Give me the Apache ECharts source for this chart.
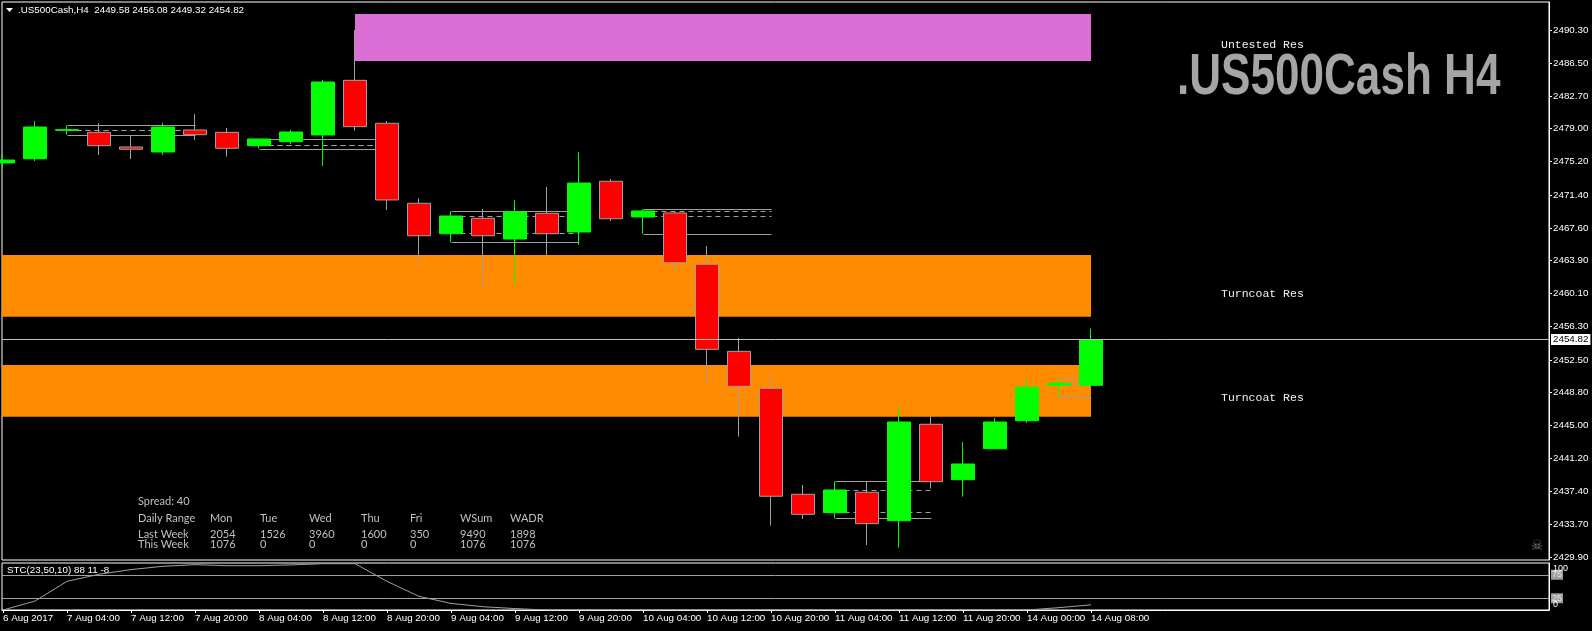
<!DOCTYPE html>
<html><head><meta charset="utf-8">
<script src="https://cdn.jsdelivr.net/npm/echarts@6/dist/echarts.min.js"></script>
<style>html,body{margin:0;padding:0;background:#000;}#c{width:1592px;height:631px;}</style>
</head><body><div id="c"></div>
<script>
// ---------- data ----------
const barTimes = ['6 Aug 2017','7 Aug 00:00','7 Aug 04:00','7 Aug 08:00','7 Aug 12:00','7 Aug 16:00','7 Aug 20:00',
  '8 Aug 00:00','8 Aug 04:00','8 Aug 08:00','8 Aug 12:00','8 Aug 16:00','8 Aug 20:00',
  '9 Aug 00:00','9 Aug 04:00','9 Aug 08:00','9 Aug 12:00','9 Aug 16:00','9 Aug 20:00',
  '10 Aug 00:00','10 Aug 04:00','10 Aug 08:00','10 Aug 12:00','10 Aug 16:00','10 Aug 20:00',
  '11 Aug 00:00','11 Aug 04:00','11 Aug 08:00','11 Aug 12:00','11 Aug 16:00','11 Aug 20:00',
  '13 Aug 20:00','14 Aug 00:00','14 Aug 04:00','14 Aug 08:00'];
const opens  = [2475.06,2475.55,2478.80,2478.57,2476.89,2476.32,2478.84,2478.57,2477.04,2477.50,2478.27,2484.53,2479.61,2470.44,2466.95,2468.72,2466.35,2469.29,2467.15,2472.96,2468.87,2469.33,2463.45,2453.47,2449.23,2437.09,2434.98,2437.32,2434.06,2445.11,2438.76,2442.31,2445.52,2449.58,2449.58];
const highs  = [2476.09,2479.87,2479.38,2479.64,2478.15,2479.68,2480.67,2479.07,2477.81,2478.84,2484.57,2490.30,2479.87,2471.01,2469.52,2469.78,2470.82,2472.31,2476.32,2473.22,2469.75,2469.56,2465.54,2455.00,2450.56,2438.15,2438.57,2438.61,2447.06,2446.17,2443.08,2445.83,2450.41,2450.38,2456.08];
const lows   = [2474.48,2475.29,2478.30,2475.97,2475.51,2475.97,2477.69,2475.78,2476.70,2477.23,2474.71,2478.76,2469.67,2463.45,2465.97,2460.88,2461.19,2464.48,2465.66,2468.41,2466.95,2462.68,2449.88,2443.69,2433.49,2434.26,2434.33,2431.27,2430.97,2437.73,2436.81,2442.31,2445.29,2448.27,2449.32];
const closes = [2475.40,2479.18,2478.88,2477.04,2476.63,2479.18,2478.30,2476.74,2477.81,2478.61,2484.34,2479.22,2470.82,2466.72,2468.98,2466.72,2469.48,2466.95,2472.76,2468.67,2469.56,2463.63,2453.70,2449.46,2436.86,2434.79,2437.58,2433.72,2445.37,2438.53,2440.56,2445.37,2449.35,2449.81,2454.82];
const stcValues = [0,19,61,76,86,93,96.5,94.3,94.3,96,98.5,98.5,61,29,14,7,3,0,0,0,0,0,0,0,0,0,0,0,0,0,0,0,0,5,11];
const priceTicks = [2490.30,2486.50,2482.70,2479.00,2475.20,2471.40,2467.60,2463.90,2460.10,2456.30,2452.50,2448.80,2445.00,2441.20,2437.40,2433.70,2429.90];
const timeTickBars = [0,2,4,6,8,10,12,14,16,18,20,22,24,26,28,30,32,34];
const lastPrice = 2454.82;
const stcLevels = [75,25];
const stcBounds = [0,100];
// supply / resistance zones
const zoneNames  = ['Untested Res','Turncoat Res','Turncoat Res'];
const zoneFrom   = [11,-1,-1];
const zoneTo     = [34,34,34];
const zoneTop    = [2492.13,2464.51,2451.90];
const zoneBottom = [2486.75,2457.44,2445.98];
// inside-bar boxes
const boxFrom  = [2,8,14,20,26,33];
const boxTo    = [6,12,18,24,29,34];
const boxHigh  = [2479.38,2477.81,2469.52,2469.75,2438.57,2450.38];
const boxLow   = [2478.30,2476.70,2465.97,2466.95,2434.33,2448.27];
const boxMidA  = [2478.84,2477.09,2468.95,2469.52,2437.54,2449.81];
const boxMidB  = [2478.84,2477.09,2466.99,2468.95,2435.01,2449.58];
// daily range table
const spreadValue = 40;
const tableHeader = ['Daily Range','Mon','Tue','Wed','Thu','Fri','WSum','WADR'];
const lastWeek = ['Last Week','2054','1526','3960','1600','350','9490','1898'];
const thisWeek = ['This Week','1076','0','0','0','0','1076','1076'];
const titleText = '.US500Cash,H4  2449.58 2456.08 2449.32 2454.82';
const stcTitle = 'STC(23,50,10) 88 11 -8';
const bigTitle = '.US500Cash H4';

// ---------- chart ----------
const XMIN = -1/32, XMAX = XMIN + 1547/32;
const zoneColors = ['#DA70D6','#FF8C00','#FF8C00'];
const AXF = '"Liberation Sans", Arial, sans-serif';
const chart = echarts.init(document.getElementById('c'), null, {renderer:'canvas'});

const tableCols = [138,210,260,309,361,410,460,510];
const tableGraphics = [];
tableGraphics.push({type:'text', x:138, y:501, style:{text:'Spread: ' + spreadValue, fill:'#C0C0C0', font:'11px Lato', textVerticalAlign:'middle'}});
[[tableHeader,518],[lastWeek,534],[thisWeek,544.5]].forEach(([row,y])=>{
  row.forEach((t,k)=>tableGraphics.push({type:'text', x:tableCols[k], y:y, style:{text:String(t), fill:'#C0C0C0', font:'11px Lato', textVerticalAlign:'middle'}}));
});

const zoneLabelY = [44.7, 293.5, 398];

const option = {
  backgroundColor:'#000',
  animation:false,
  grid:[
    {left:2, top:2, width:1547, height:558, show:true, borderColor:'#fff', borderWidth:1, backgroundColor:'transparent'},
    {left:2, top:563, width:1547, height:47, show:true, borderColor:'#fff', borderWidth:1, backgroundColor:'transparent'}
  ],
  xAxis:[
    {type:'value', gridIndex:0, min:XMIN, max:XMAX, show:false, axisLine:{onZero:false}},
    {type:'value', gridIndex:1, min:XMIN, max:XMAX, position:'bottom',
      axisLine:{show:true, onZero:false, lineStyle:{color:'#fff'}},
      axisTick:{show:true, length:3, lineStyle:{color:'#fff'}, customValues:timeTickBars},
      axisLabel:{show:true, customValues:timeTickBars, formatter:(v)=>barTimes[Math.round(v)]||'', color:'#fff',
        fontSize:9.8, fontFamily:AXF, align:'left', margin:3, hideOverlap:false},
      splitLine:{show:false}}
  ],
  yAxis:[
    {type:'value', gridIndex:0, position:'right', min:2429.555, max:2493.509,
      axisLine:{show:true, onZero:false, lineStyle:{color:'#fff'}},
      axisTick:{show:true, length:3, lineStyle:{color:'#fff'}, customValues:priceTicks},
      axisLabel:{show:true, customValues:priceTicks, formatter:(v)=>v.toFixed(2), color:'#fff', fontSize:9.8, fontFamily:AXF, margin:4},
      splitLine:{show:false}},
    {type:'value', gridIndex:1, position:'right', min:0, max:100,
      axisLine:{show:true, onZero:false, lineStyle:{color:'#fff'}},
      axisTick:{show:false},
      axisLabel:{show:true, customValues:stcLevels, margin:2, fontSize:9, fontFamily:AXF,
        color:'#E8E8E8', backgroundColor:'#9E9E9E', padding:[1,1,0,1], hideOverlap:false},
      splitLine:{show:false}},
    {type:'value', gridIndex:1, position:'right', min:0, max:100,
      axisLine:{show:false, onZero:false},
      axisTick:{show:false},
      axisLabel:{show:true, customValues:stcBounds, margin:4, fontSize:9, fontFamily:AXF, color:'#fff',
        showMinLabel:true, showMaxLabel:true, hideOverlap:false,
        formatter:(v)=> (v>50 ? '{top|'+v+'}' : '{bot|'+v+'}'),
        rich:{top:{color:'#fff', fontSize:9, fontFamily:AXF, padding:[12,0,0,0]},
              bot:{color:'#fff', fontSize:9, fontFamily:AXF, padding:[0,0,10,0]}}},
      splitLine:{show:false}}
  ],
  series:[
    {type:'custom', name:'zones', xAxisIndex:0, yAxisIndex:0, z:1, silent:true,
      data: zoneFrom.map((f,i)=>[Math.max(f, XMIN), zoneTo[i], zoneTop[i], zoneBottom[i]]),
      encode:{x:[0,1], y:[2,3]},
      renderItem:(params, api)=>{
        const i = params.dataIndex;
        const p0 = api.coord([api.value(0), api.value(2)]);
        const p1 = api.coord([api.value(1), api.value(3)]);
        const cs = params.coordSys;
        const r = echarts.graphic.clipRectByRect(
          {x:p0[0], y:p0[1], width:p1[0]-p0[0], height:p1[1]-p0[1]},
          {x:cs.x, y:cs.y, width:cs.width, height:cs.height});
        return r && {type:'rect', shape:r, style:{fill:zoneColors[i]}};
      },
      markLine:{silent:true, symbol:['none','none'], animation:false,
        lineStyle:{color:'#C0C0C0', width:1, type:'solid'},
        label:{show:true, position:'end', distance:2, formatter:()=>lastPrice.toFixed(2), backgroundColor:'#fff', color:'#000',
          padding:[1,2,0,2], fontSize:9.8, fontFamily:AXF},
        data:[{yAxis:lastPrice}]}
    },
    {type:'custom', name:'boxes', xAxisIndex:0, yAxisIndex:0, z:2, silent:true,
      data: boxFrom.map((f,i)=>[f, boxTo[i], boxHigh[i], boxLow[i], boxMidA[i], boxMidB[i]]),
      encode:{x:[0,1], y:[2,3]},
      renderItem:(params, api)=>{
        const x0 = api.value(0), x1 = api.value(1);
        const crisp = (y)=>Math.round(y)+0.5;
        const mk = (price, dashed)=>{
          const a = api.coord([x0, price]), b = api.coord([x1, price]);
          return {type:'line', shape:{x1:Math.round(a[0])+0.5, y1:crisp(a[1]), x2:Math.round(b[0])+0.5, y2:crisp(b[1])},
            style:{stroke:'#A0A0A0', lineWidth:1, lineDash: dashed ? [5,4] : null}};
        };
        return {type:'group', children:[mk(api.value(2),false), mk(api.value(3),false), mk(api.value(4),true), mk(api.value(5),true)]};
      }
    },
    {type:'candlestick', name:'price', xAxisIndex:0, yAxisIndex:0, z:3, barWidth:24, silent:true,
      data: opens.map((o,i)=>[i, o, closes[i], lows[i], highs[i]]),
      itemStyle:{color:'#00FF00', color0:'#FF0000', borderColor:'#00FF00', borderColor0:'#A0A0A0', borderWidth:1}
    },
    {type:'line', name:'STC', xAxisIndex:1, yAxisIndex:1, z:3, silent:true, showSymbol:false,
      data: stcValues.map((v,i)=>[i,v]),
      lineStyle:{color:'#A0A0A0', width:1},
      markLine:{silent:true, symbol:['none','none'], animation:false, label:{show:false},
        lineStyle:{color:'#A0A0A0', width:1, type:'solid'},
        data: stcLevels.map(v=>({yAxis:v}))}
    }
  ],
  graphic:[
    {type:'polygon', shape:{points:[[6,8],[13,8],[9.5,12]]}, style:{fill:'#fff'}},
    {type:'text', x:18, y:10.5, style:{text:titleText, fill:'#fff', font:'9.8px "Liberation Sans"', textVerticalAlign:'middle'}},
    {type:'text', x:7, y:570, style:{text:stcTitle, fill:'#fff', font:'9.8px "Liberation Sans"', textVerticalAlign:'middle'}},
    {type:'text', x:1177, y:107, scaleX:0.76, style:{text:bigTitle, fill:'#A5A5A5', font:'bold 58px "Liberation Sans", Arial, sans-serif', textVerticalAlign:'bottom'}},
    ...zoneNames.map((n,i)=>({type:'text', x:1221, y:zoneLabelY[i], style:{text:n, fill:'#F0F0F0', font:'11.5px "Liberation Mono"', textVerticalAlign:'middle'}})),
    {type:'text', x:1537, y:546, style:{text:'☠', fill:'#7A7A7A', font:'14px "DejaVu Sans"', textAlign:'center', textVerticalAlign:'middle'}},
    ...tableGraphics
  ]
};
chart.setOption(option);
</script></body></html>
